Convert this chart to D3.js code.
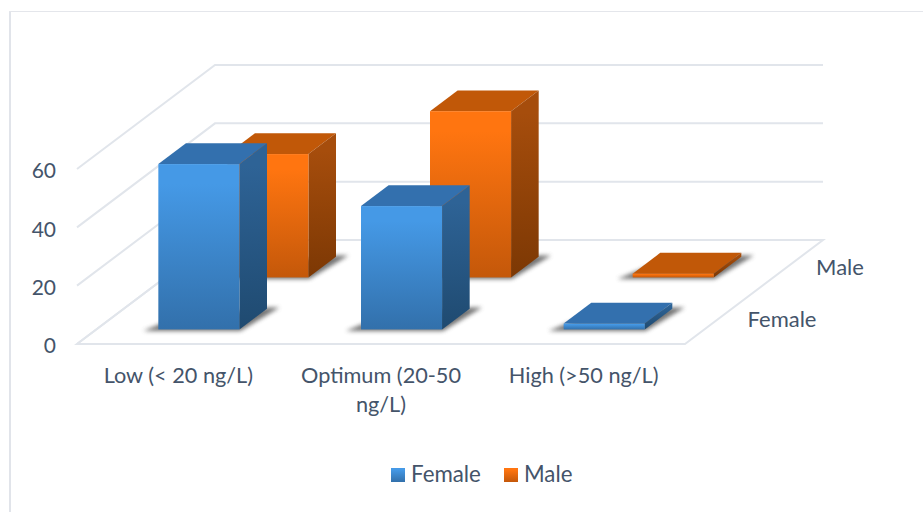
<!DOCTYPE html>
<html>
<head>
<meta charset="utf-8">
<script src="https://cdn.jsdelivr.net/npm/d3@7"></script>
<style>
    html, body { margin: 0; padding: 0; background: #fff; }
    svg { display: block; }
    text { font-family: Lato, "Open Sans", sans-serif; fill: #44546a; }
</style>
</head>
<body>
<svg id="chart" width="923" height="512"></svg>
<script>
// data
var categories = ["Low (< 20 ng/L)", "Optimum (20-50 ng/L)", "High (>50 ng/L)"];
var seriesNames = ["Female", "Male"];
var femaleValues = [56.7, 42.3, 2];
var maleValues = [42.3, 57, 1.3];
var yTicks = [0, 20, 40, 60];
var gridValues = [0, 20, 40, 60];

var width = 923, height = 512;
var svg = d3.select("#chart");
var defs = svg.append("defs");

// floor of the 3d box: front left corner and the shift going to the back
var originX = 77, originY = 344, floorW = 608, shiftX = 138, shiftY = 104;

var u = d3.scaleBand().domain(d3.range(categories.length)).range([0, floorW]);
var barW = u.bandwidth() * 0.4;
var depth = d3.scaleBand().domain(d3.range(seriesNames.length)).range([0, 1]);
var barD = depth.bandwidth() * 0.4;
var y = d3.scaleLinear().domain([0, 60]).range([0, 175]);

// project (across, depth 0-1, value) to the screen
function project(a, d, v) {
    return [originX + a + d * shiftX, originY - d * shiftY - y(v)];
}
function poly(pts) {
    return pts.map(p => p.join(",")).join(" ");
}

function gradient(id, top, bottom) {
    var g = defs.append("linearGradient").attr("id", id)
        .attr("x1", 0).attr("y1", 0).attr("x2", 0).attr("y2", 1);
    g.append("stop").attr("offset", "12%").attr("stop-color", top);
    g.append("stop").attr("offset", "100%").attr("stop-color", bottom);
}
gradient("frontFemale", "#4599e6", "#3270ab");
gradient("sideFemale", "#2e6396", "#1f4a70");
gradient("frontMale", "#ff7510", "#c4580a");
gradient("sideMale", "#a64d0c", "#7c3804");
gradient("legendFemale", "#4599e6", "#3270ab");
gradient("legendMale", "#ff7510", "#c4580a");

defs.append("filter").attr("id", "soft")
    .attr("x", "-30%").attr("y", "-60%").attr("width", "160%").attr("height", "220%")
    .append("feGaussianBlur").attr("stdDeviation", 2.2);

var topColor = { Female: "#3370ae", Male: "#c15808" };

// outer frame of the picture
svg.append("path")
    .attr("d", "M10," + height + "V11")
    .attr("fill", "none").attr("stroke", "#e1e4ea").attr("stroke-width", 2);
svg.append("path")
    .attr("d", "M9,11.5H" + width)
    .attr("fill", "none").attr("stroke", "#e4e6eb").attr("stroke-width", 1);

// back wall, side wall and floor grid
var gridColor = "#e1e5eb";
var grid = svg.append("g").attr("fill", "none").attr("stroke", gridColor).attr("stroke-width", 2);
gridValues.forEach(function (v) {
    var a = project(0, 0, v), b = project(0, 1, v), c = project(floorW, 1, v);
    grid.append("polyline").attr("points", poly([a, b, c]));
});
grid.append("polygon").attr("points", poly([
    project(0, 0, 0), project(floorW, 0, 0), project(floorW, 1, 0), project(0, 1, 0)
]));

// bars, back row first so the front row overlaps it
var rows = [
    { name: "Male", values: maleValues, row: 1 },
    { name: "Female", values: femaleValues, row: 0 }
];
rows.forEach(function (s) {
    var d0 = depth(s.row) + depth.bandwidth() * 0.28;
    var d1 = d0 + barD;
    s.values.forEach(function (v, i) {
        var x0 = u(i) + u.bandwidth() * 0.306;
        var x1 = x0 + barW;
        var g = svg.append("g").attr("class", "bar");

        // shadow on the floor, sticks out left of the front and right of the back
        var sx = 13;
        g.append("polygon")
            .attr("points", poly([
                project(x0 - sx, d0 - 0.015, 0), project(x1 + 3, d0 - 0.015, 0),
                project(x1 + sx - 2, d1 + 0.01, 0), project(x1, d1 + 0.01, 0),
                project(x0, d0 + 0.1, 0)
            ]))
            .attr("fill", "#5c5c5c").attr("opacity", 0.85).attr("filter", "url(#soft)");

        g.append("polygon")
            .attr("points", poly([project(x0, d0, v), project(x1, d0, v), project(x1, d1, v), project(x0, d1, v)]))
            .attr("fill", topColor[s.name]);
        g.append("polygon")
            .attr("points", poly([project(x1, d0, 0), project(x1, d1, 0), project(x1, d1, v), project(x1, d0, v)]))
            .attr("fill", "url(#side" + s.name + ")");
        var p = project(x0, d0, v);
        g.append("rect")
            .attr("x", p[0]).attr("y", p[1])
            .attr("width", barW).attr("height", y(v))
            .attr("fill", "url(#front" + s.name + ")");
    });
});

// value axis on the front left edge
var yAxisScale = d3.scaleLinear().domain([0, 60]).range([originY, originY - 175]);
var yAxis = svg.append("g")
    .attr("transform", "translate(" + (originX - 13) + ",2)")
    .call(d3.axisLeft(yAxisScale).tickValues(yTicks).tickSize(0).tickPadding(8));
yAxis.select(".domain").remove();
yAxis.selectAll("text").style("font-family", "Lato").style("font-size", "21px").attr("fill", "#44546a");

// category labels, the long one wraps
var catY = 383;
categories.forEach(function (c, i) {
    var lines = c.indexOf("Optimum") == 0 ? ["Optimum (20-50", "ng/L)"] : [c];
    var t = svg.append("text")
        .attr("y", catY)
        .attr("text-anchor", "middle")
        .style("font-size", "21.7px");
    lines.forEach(function (l, k) {
        t.append("tspan")
            .attr("x", originX + u(i) + u.bandwidth() / 2)
            .attr("dy", k ? 29 : 0)
            .text(l);
    });
});

// series labels on the right side
var seriesLabelX = [782, 840];
var seriesLabelY = [327, 275];
seriesNames.forEach(function (n, i) {
    svg.append("text")
        .attr("x", seriesLabelX[i]).attr("y", seriesLabelY[i])
        .attr("text-anchor", "middle")
        .style("font-size", "22px")
        .text(n);
});

// legend
var legendX = [391, 504];
seriesNames.forEach(function (n, i) {
    svg.append("rect")
        .attr("x", legendX[i]).attr("y", 468)
        .attr("width", 14).attr("height", 14)
        .attr("fill", "url(#legend" + n + ")");
    svg.append("text")
        .attr("x", legendX[i] + 20).attr("y", 482)
        .style("font-size", "22.3px")
        .text(n);
});
</script>
</body>
</html>
